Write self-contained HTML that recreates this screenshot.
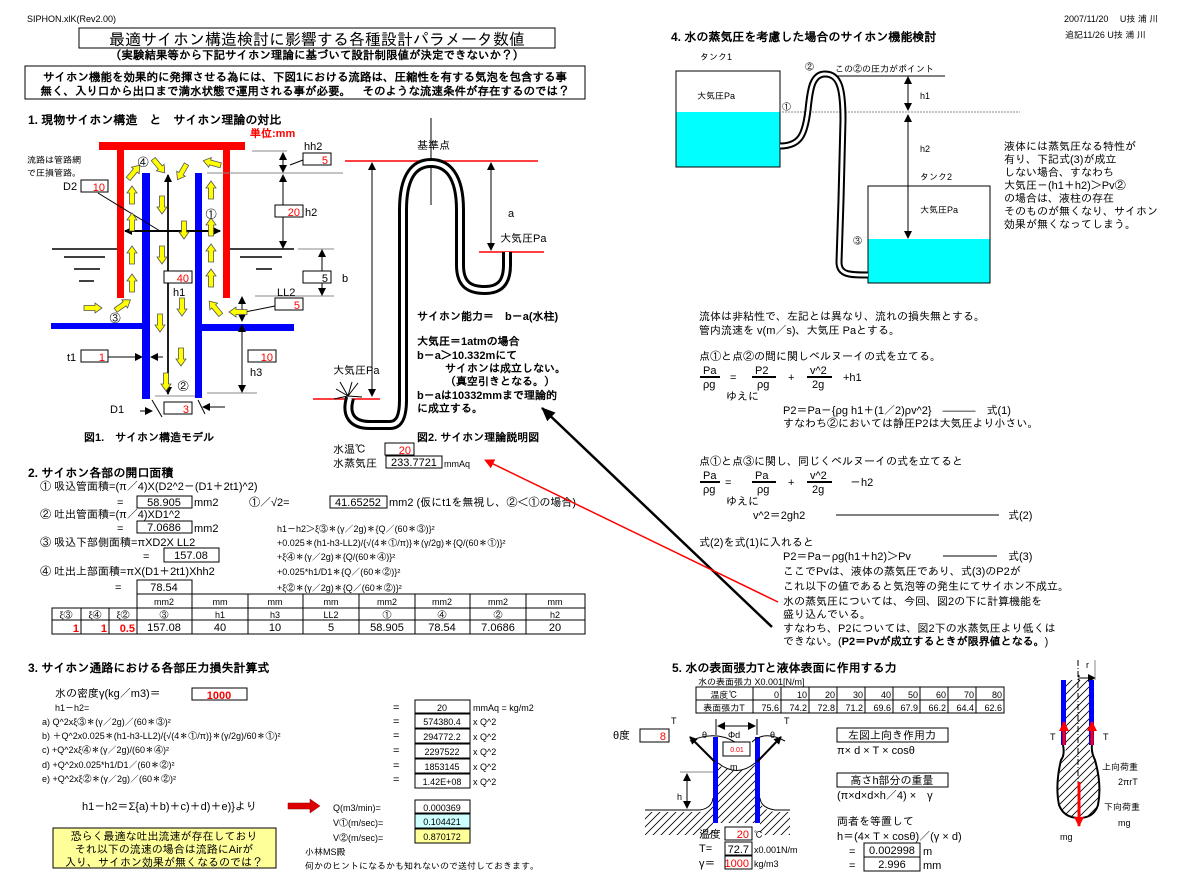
<!DOCTYPE html>
<html><head><meta charset="utf-8"><style>
html,body{margin:0;padding:0;background:#fff}
svg{display:block}
text{font-family:"Liberation Sans","IPAGothic","Noto Sans CJK JP",sans-serif;font-size:11px;fill:#000}
.b{font-weight:bold}
.r{fill:#f00}
.s{font-size:9px}
.m{text-anchor:middle}
.e{text-anchor:end}
.bx{fill:#fff;stroke:#000;stroke-width:1}
.ln{stroke:#000;stroke-width:1;fill:none}
.gl{stroke:#888;stroke-width:1;fill:none}
</style></head><body>
<svg width="1196" height="882" viewBox="0 0 1196 882" xmlns="http://www.w3.org/2000/svg">
<defs>
<marker id="ah" markerWidth="8" markerHeight="8" refX="7" refY="4" orient="auto" markerUnits="userSpaceOnUse"><path d="M0,0 L8,4 L0,8 z" fill="#000"/></marker>
<marker id="ahr" markerWidth="10" markerHeight="10" refX="9" refY="5" orient="auto" markerUnits="userSpaceOnUse"><path d="M0,0 L10,5 L0,10 z" fill="#f00"/></marker>
<marker id="ahb" markerWidth="14" markerHeight="12" refX="13" refY="6" orient="auto" markerUnits="userSpaceOnUse"><path d="M0,0 L14,6 L0,12 z" fill="#000"/></marker>
<g id="ya"><polygon points="-2.5,9 2.5,9 2.5,-2 5,-2 0,-9 -5,-2 -2.5,-2" fill="#ff0" stroke="#555" stroke-width="0.8"/></g>
<pattern id="hat" width="8" height="8" patternUnits="userSpaceOnUse"><path d="M-2,10 L10,-2 M-2,2 L2,-2 M6,10 L10,6" stroke="#000" stroke-width="0.8"/></pattern>
</defs>

<!-- header -->
<text x="27" y="22" class="s">SIPHON.xlK(Rev2.00)</text>
<rect x="79" y="28" width="476" height="20" class="bx" stroke-width="1.5"/>
<text x="317" y="45" class="m" style="font-size:16px">最適サイホン構造検討に影響する各種設計パラメータ数値</text>
<text x="317" y="59" class="m b" style="font-size:11.5px">（実験結果等から下記サイホン理論に基づいて設計制限値が決定できないか？）</text>
<rect x="25" y="66" width="560" height="33" class="bx"/>
<text x="305" y="81" class="m b" style="font-size:11.5px">サイホン機能を効果的に発揮させる為には、下図1における流路は、圧縮性を有する気泡を包含する事</text>
<text x="305" y="95" class="m b" style="font-size:11.5px">無く、入り口から出口まで満水状態で運用される事が必要。　そのような流速条件が存在するのでは？</text>
<text x="1064" y="22" class="s">2007/11/20　 U技 浦 川</text>
<text x="1065" y="38" class="s">追記11/26 U技 浦 川</text>

<!-- section 1 -->
<text x="28" y="124" class="b" style="font-size:12px">1. 現物サイホン構造　と　サイホン理論の対比</text>
<text x="250" y="137" class="r b">単位:mm</text>
<text x="27" y="163" class="s">流路は管路網</text>
<text x="27" y="176" class="s">で圧損管路。</text>
<rect x="99" y="142" width="146" height="8" fill="#f00"/>
<rect x="117" y="150" width="7" height="148" fill="#f00"/>
<rect x="223" y="150" width="7" height="148" fill="#f00"/>
<rect x="142" y="173" width="8" height="226" fill="#00f"/>
<rect x="195" y="173" width="7" height="225" fill="#00f"/>
<rect x="51" y="323" width="94" height="6" fill="#00f"/>
<rect x="202" y="324" width="92" height="7" fill="#00f"/>
<g stroke="#000" stroke-width="1.5">
<line x1="52" y1="249" x2="117" y2="249"/><line x1="230" y1="249" x2="294" y2="249"/>
<line x1="64" y1="257" x2="105" y2="257"/><line x1="74" y1="269" x2="100" y2="269"/><line x1="79" y1="281" x2="94" y2="281"/>
<line x1="240" y1="257" x2="282" y2="257"/><line x1="256" y1="269" x2="272" y2="269"/>
</g>
<g class="gl">
<line x1="252" y1="151" x2="287" y2="151"/><line x1="207" y1="173" x2="343" y2="173"/>
<line x1="298" y1="249" x2="334" y2="249"/><line x1="255" y1="296" x2="334" y2="296"/>
<line x1="207" y1="393" x2="257" y2="393"/><line x1="155" y1="396" x2="195" y2="396"/>
</g>
<g class="ln">
<line x1="283" y1="172" x2="283" y2="153" marker-end="url(#ah)"/><line x1="283" y1="153" x2="283" y2="172" marker-end="url(#ah)"/>
<line x1="283" y1="248" x2="283" y2="175" marker-end="url(#ah)"/><line x1="283" y1="175" x2="283" y2="248" marker-end="url(#ah)"/>
<line x1="322" y1="295" x2="322" y2="250" marker-end="url(#ah)"/><line x1="322" y1="250" x2="322" y2="295" marker-end="url(#ah)"/>
<line x1="242" y1="321" x2="242" y2="297" marker-end="url(#ah)"/><line x1="242" y1="297" x2="242" y2="321" marker-end="url(#ah)"/>
<line x1="242" y1="392" x2="242" y2="325" marker-end="url(#ah)"/><line x1="242" y1="325" x2="242" y2="392" marker-end="url(#ah)"/>
<line x1="168" y1="394" x2="168" y2="175" marker-end="url(#ah)" stroke-width="1.5"/><line x1="168" y1="175" x2="168" y2="394" marker-end="url(#ah)" stroke-width="1.5"/>
<line x1="220" y1="231" x2="125" y2="231" marker-end="url(#ah)" stroke-width="2"/><line x1="125" y1="231" x2="220" y2="231" marker-end="url(#ah)" stroke-width="2"/>
<line x1="98" y1="193" x2="160" y2="231"/>
<line x1="108" y1="357" x2="142" y2="357" marker-end="url(#ah)"/><line x1="163" y1="357" x2="151" y2="357" marker-end="url(#ah)"/>
<line x1="140" y1="411" x2="152" y2="411" marker-end="url(#ah)"/><line x1="225" y1="407" x2="203" y2="407" marker-end="url(#ah)"/>
<line x1="152" y1="400" x2="162" y2="417"/><line x1="198" y1="400" x2="205" y2="414"/>
<line x1="290" y1="165" x2="303" y2="160"/><line x1="240" y1="313" x2="275" y2="306"/>
</g>
<use href="#ya" x="132" y="195"/><use href="#ya" x="132" y="222"/><use href="#ya" x="132" y="255"/><use href="#ya" x="132" y="283"/>
<use href="#ya" x="211" y="190"/><use href="#ya" x="211" y="227"/><use href="#ya" x="211" y="253"/><use href="#ya" x="211" y="278"/>
<use href="#ya" transform="translate(162,205) rotate(180)"/><use href="#ya" transform="translate(162,255) rotate(180)"/>
<use href="#ya" transform="translate(184,230) rotate(180)"/><use href="#ya" transform="translate(182,307) rotate(180)"/>
<use href="#ya" transform="translate(160,323) rotate(180)"/><use href="#ya" transform="translate(181,357) rotate(180)"/>
<use href="#ya" transform="translate(166,382) rotate(180)"/>
<use href="#ya" transform="translate(134,172) rotate(40)"/><use href="#ya" transform="translate(159,166) rotate(140)"/>
<use href="#ya" transform="translate(182,172) rotate(-150)"/><use href="#ya" transform="translate(212,163) rotate(-75)"/>
<use href="#ya" transform="translate(93,308) rotate(90)"/><use href="#ya" transform="translate(123,305) rotate(55)"/>
<use href="#ya" transform="translate(215,308) rotate(-40)"/><use href="#ya" transform="translate(238,312) rotate(-90)"/>
<text x="143" y="166" class="m">④</text><text x="211" y="218" class="m">①</text><text x="115" y="322" class="m">③</text><text x="183" y="390" class="m">②</text>
<text x="304" y="150">hh2</text><rect x="303" y="153" width="28" height="12" class="bx"/><text x="328" y="164" class="e r">5</text>
<rect x="275" y="205" width="28" height="12" class="bx"/><text x="300" y="216" class="e r">20</text><text x="305" y="216">h2</text>
<rect x="303" y="271" width="28" height="12" class="bx"/><text x="328" y="282" class="e">5</text><text x="342" y="282">b</text>
<text x="277" y="296">LL2</text><rect x="275" y="298" width="28" height="12" class="bx"/><text x="300" y="309" class="e r">5</text>
<rect x="248" y="350" width="28" height="12" class="bx"/><text x="273" y="361" class="e r">10</text><text x="250" y="376">h3</text>
<rect x="164" y="271" width="28" height="12" class="bx"/><text x="189" y="282" class="e r">40</text><text x="173" y="296">h1</text>
<text x="63" y="190">D2</text><rect x="81" y="180" width="27" height="12" class="bx"/><text x="105" y="191" class="e r">10</text>
<text x="67" y="361">t1</text><rect x="81" y="350" width="27" height="12" class="bx"/><text x="105" y="361" class="e r">1</text>
<text x="110" y="413">D1</text><rect x="164" y="402" width="28" height="12" class="bx"/><text x="189" y="413" class="e r">3</text>
<text x="84" y="441" class="b">図1.　サイホン構造モデル</text>

<!-- fig2 -->
<line x1="431" y1="118" x2="431" y2="205" class="ln"/>
<line x1="345" y1="161" x2="538" y2="161" stroke="#f00" stroke-width="1.5"/>
<line x1="479" y1="252" x2="544" y2="252" stroke="#f00" stroke-width="1.5"/>
<line x1="313" y1="399" x2="380" y2="399" stroke="#f00" stroke-width="1.5"/>
<path d="M350 398 C345 415 352 425 370 425 L390 425 C400 425 403 415 403 400 L403 210 C403 175 415 163 431 163 C447 163 460 175 460 210 L460 265 C460 285 470 290 485 290 C500 290 507 282 507 265 L507 252" fill="none" stroke="#000" stroke-width="10"/>
<path d="M350 398 C345 415 352 425 370 425 L390 425 C400 425 403 415 403 400 L403 210 C403 175 415 163 431 163 C447 163 460 175 460 210 L460 265 C460 285 470 290 485 290 C500 290 507 282 507 265 L507 252" fill="none" stroke="#fff" stroke-width="4"/>
<g class="ln">
<line x1="372" y1="396" x2="372" y2="163" marker-end="url(#ah)"/><line x1="372" y1="163" x2="372" y2="396" marker-end="url(#ah)"/>
<line x1="491" y1="250" x2="491" y2="163" marker-end="url(#ah)"/><line x1="491" y1="163" x2="491" y2="250" marker-end="url(#ah)"/>
<path d="M348 396 L336 389 M348 396 L340 382 M348 396 L352 382 M348 396 L358 383 M348 396 L334 399 M348 396 L362 397"/>
</g>
<text x="417" y="149">基準点</text>
<text x="508" y="217">a</text>
<text x="500" y="242">大気圧Pa</text>
<text x="333" y="374">大気圧Pa</text>
<text x="417" y="320" class="b">サイホン能力＝　b－a(水柱)</text>
<text x="417" y="345" class="b">大気圧＝1atmの場合</text>
<text x="417" y="359" class="b">b－a＞10.332mにて</text>
<text x="445" y="372" class="b">サイホンは成立しない。</text>
<text x="445" y="385" class="b">（真空引きとなる。）</text>
<text x="417" y="399" class="b">b－aは10332mmまで理論的</text>
<text x="417" y="412" class="b">に成立する。</text>
<text x="417" y="441" class="b">図2. サイホン理論説明図</text>
<text x="333" y="453">水温℃</text><rect x="385" y="443" width="29" height="12" class="bx"/><text x="411" y="454" class="e r">20</text>
<text x="333" y="467">水蒸気圧</text><rect x="386" y="456" width="56" height="12" class="bx"/><text x="414" y="466" class="m">233.7721</text><text x="444" y="467" class="s">mmAq</text>

<!-- section 2 -->
<text x="28" y="477" class="b" style="font-size:12px">2. サイホン各部の開口面積</text>
<text x="40" y="490">① 吸込管面積=(π／4)X(D2^2－(D1＋2t1)^2)</text>
<text x="117" y="506">=</text><rect x="137" y="496" width="55" height="12" class="bx"/><text x="164" y="506" class="m">58.905</text><text x="194" y="506">mm2</text>
<text x="249" y="506">①／√2=</text><rect x="330" y="496" width="57" height="12" class="bx"/><text x="358" y="506" class="m">41.65252</text><text x="389" y="506">mm2 (仮にt1を無視し、②＜①の場合)</text>
<text x="40" y="518">② 吐出管面積=(π／4)XD1^2</text>
<text x="117" y="532">=</text><rect x="137" y="521" width="55" height="12" class="bx"/><text x="164" y="531" class="m">7.0686</text><text x="194" y="532">mm2</text>
<text x="277" y="532" class="s">h1－h2＞ξ③＊(γ／2g)＊{Q／(60＊③)}²</text>
<text x="40" y="546">③ 吸込下部側面積=πXD2X LL2</text>
<text x="277" y="546" class="s">+0.025＊(h1-h3-LL2)/{√(4＊①/π)}＊(γ/2g)＊{Q/(60＊①)}²</text>
<text x="143" y="560">=</text><rect x="164" y="548" width="55" height="14" class="bx"/><text x="191" y="559" class="m">157.08</text>
<text x="277" y="560" class="s">+ξ④＊(γ／2g)＊{Q/(60＊④)}²</text>
<text x="40" y="575">④ 吐出上部面積=πX(D1＋2t1)Xhh2</text>
<text x="277" y="575" class="s">+0.025*h1/D1＊{Q／(60＊②)}²</text>
<text x="115" y="591">=</text><rect x="137" y="580" width="55" height="14" class="bx"/><text x="164" y="591" class="m">78.54</text>
<text x="277" y="591" class="s">+ξ②＊(γ／2g)＊{Q／(60＊②)}²</text>
<g class="ln">
<rect x="137" y="594" width="448" height="40"/>
<rect x="52" y="608" width="85" height="26"/>
<line x1="52" y1="620" x2="585" y2="620"/><line x1="137" y1="608" x2="585" y2="608"/>
<line x1="81" y1="608" x2="81" y2="634"/><line x1="109" y1="608" x2="109" y2="634"/>
<line x1="192" y1="594" x2="192" y2="634"/><line x1="248" y1="594" x2="248" y2="634"/><line x1="303" y1="594" x2="303" y2="634"/>
<line x1="359" y1="594" x2="359" y2="634"/><line x1="415" y1="594" x2="415" y2="634"/><line x1="470" y1="594" x2="470" y2="634"/><line x1="526" y1="594" x2="526" y2="634"/>
</g>
<text x="164" y="605" class="m s">mm2</text><text x="220" y="605" class="m s">mm</text><text x="275" y="605" class="m s">mm</text><text x="331" y="605" class="m s">mm</text><text x="387" y="605" class="m s">mm2</text><text x="442" y="605" class="m s">mm2</text><text x="498" y="605" class="m s">mm2</text><text x="555" y="605" class="m s">mm</text>
<text x="66" y="618" class="m s">ξ③</text><text x="95" y="618" class="m s">ξ④</text><text x="123" y="618" class="m s">ξ②</text>
<text x="164" y="618" class="m s">③</text><text x="220" y="618" class="m s">h1</text><text x="275" y="618" class="m s">h3</text><text x="331" y="618" class="m s">LL2</text><text x="387" y="618" class="m s">①</text><text x="442" y="618" class="m s">④</text><text x="498" y="618" class="m s">②</text><text x="555" y="618" class="m s">h2</text>
<text x="79" y="632" class="e r b">1</text><text x="107" y="632" class="e r b">1</text><text x="135" y="632" class="e r b">0.5</text>
<text x="164" y="631" class="m">157.08</text><text x="220" y="631" class="m">40</text><text x="275" y="631" class="m">10</text><text x="331" y="631" class="m">5</text><text x="387" y="631" class="m">58.905</text><text x="442" y="631" class="m">78.54</text><text x="498" y="631" class="m">7.0686</text><text x="555" y="631" class="m">20</text>

<line x1="772" y1="627" x2="542" y2="408" stroke="#000" stroke-width="2.5" marker-end="url(#ahb)"/>
<line x1="778" y1="602" x2="485" y2="460" stroke="#f00" stroke-width="1.5" marker-end="url(#ahr)"/>

<!-- section 3 -->
<text x="28" y="672" class="b" style="font-size:12px">3. サイホン通路における各部圧力損失計算式</text>
<text x="55" y="697">水の密度γ(kg／m3)＝</text><rect x="192" y="688" width="55" height="12" class="bx"/><text x="219" y="699" class="m r b">1000</text>
<text x="55" y="711" class="s">h1－h2=</text>
<text x="42" y="725" class="s">a) Q^2xξ③＊(γ／2g)／(60＊③)²</text>
<text x="42" y="739" class="s">b) ＋Q^2x0.025＊(h1-h3-LL2)/{√(4＊①/π)}＊(γ/2g)/60＊①)²</text>
<text x="42" y="753" class="s">c) +Q^2xξ④＊(γ／2g)/(60＊④)²</text>
<text x="42" y="768" class="s">d) +Q^2x0.025*h1/D1／(60＊②)²</text>
<text x="42" y="782" class="s">e) +Q^2xξ②＊(γ／2g)／(60＊②)²</text>
<text x="393" y="711">=</text><text x="393" y="725">=</text><text x="393" y="739">=</text><text x="393" y="754">=</text><text x="393" y="769">=</text><text x="393" y="783">=</text>
<rect x="415" y="700" width="55" height="13" class="bx"/><text x="442" y="711" class="m s">20</text><text x="473" y="711" class="s">mmAq = kg/m2</text>
<rect x="415" y="714" width="55" height="14" class="bx"/><text x="442" y="725" class="m s">574380.4</text><text x="473" y="725" class="s">x Q^2</text>
<rect x="415" y="729" width="55" height="14" class="bx"/><text x="442" y="740" class="m s">294772.2</text><text x="473" y="740" class="s">x Q^2</text>
<rect x="415" y="744" width="55" height="14" class="bx"/><text x="442" y="755" class="m s">2297522</text><text x="473" y="755" class="s">x Q^2</text>
<rect x="415" y="759" width="55" height="14" class="bx"/><text x="442" y="770" class="m s">1853145</text><text x="473" y="770" class="s">x Q^2</text>
<rect x="415" y="774" width="55" height="14" class="bx"/><text x="442" y="785" class="m s">1.42E+08</text><text x="473" y="785" class="s">x Q^2</text>
<text x="82" y="810">h1－h2＝Σ{a)＋b)＋c)＋d)＋e)}より</text>
<polygon points="288,803 310,803 310,799 320,806 310,813 310,809 288,809" fill="#d00" stroke="#800" stroke-width="0.5"/>
<text x="333" y="811" class="s">Q(m3/min)=</text><rect x="415" y="800" width="55" height="13" class="bx"/><text x="442" y="811" class="m s">0.000369</text>
<text x="333" y="826" class="s">V①(m/sec)=</text><rect x="415" y="814" width="55" height="14" fill="#cff" stroke="#000"/><text x="442" y="825" class="m s">0.104421</text>
<text x="333" y="841" class="s">V②(m/sec)=</text><rect x="415" y="829" width="55" height="14" fill="#ff9" stroke="#000"/><text x="442" y="840" class="m s">0.870172</text>
<text x="305" y="855" class="s">小林MS殿</text>
<text x="305" y="869" class="s">何かのヒントになるかも知れないので送付しておきます。</text>
<rect x="53" y="828" width="223" height="40" fill="#ff9" stroke="#000"/>
<text x="164" y="840" class="m">恐らく最適な吐出流速が存在しており</text>
<text x="164" y="853" class="m">それ以下の流速の場合は流路にAirが</text>
<text x="164" y="866" class="m">入り、サイホン効果が無くなるのでは？</text>

<!-- section 4 -->
<text x="671" y="41" class="b" style="font-size:12px">4. 水の蒸気圧を考慮した場合のサイホン機能検討</text>
<text x="700" y="60" class="s">タンク1</text>
<rect x="676" y="112" width="104" height="55" fill="#0ff"/>
<rect x="676" y="71" width="104" height="96" fill="none" stroke="#000"/>
<text x="697" y="99" class="s">大気圧Pa</text>
<text x="782" y="110" class="s">①</text><text x="805" y="70" class="s">②</text>
<text x="835" y="72" class="s">この②の圧力がポイント</text>
<line x1="820" y1="76" x2="945" y2="76" class="ln"/>
<line x1="782" y1="112" x2="1020" y2="112" stroke="#888" stroke-dasharray="2,1"/>
<g class="ln">
<line x1="908" y1="110" x2="908" y2="77" marker-end="url(#ah)"/><line x1="908" y1="77" x2="908" y2="110" marker-end="url(#ah)"/>
<line x1="908" y1="238" x2="908" y2="115" marker-end="url(#ah)"/><line x1="908" y1="115" x2="908" y2="238" marker-end="url(#ah)"/>
</g>
<text x="920" y="99" class="s">h1</text><text x="920" y="152" class="s">h2</text><text x="920" y="180" class="s">タンク2</text>
<rect x="868" y="239" width="122" height="44" fill="#0ff"/>
<rect x="868" y="186" width="122" height="97" fill="none" stroke="#000"/>
<text x="920" y="213" class="s">大気圧Pa</text>
<text x="853" y="244" class="s">③</text>
<path d="M780 146 C800 146 805 135 808 110 C810 90 812 74 825 74 C840 74 843 90 843 120 L841 200 L839 262 C839 275 850 275 868 275" fill="none" stroke="#000" stroke-width="7"/>
<path d="M780 146 C800 146 805 135 808 110 C810 90 812 74 825 74 C840 74 843 90 843 120 L841 200 L839 262 C839 275 850 275 868 275" fill="none" stroke="#fff" stroke-width="3"/>
<g class="s">
<text x="1004" y="150">液体には蒸気圧なる特性が</text>
<text x="1004" y="163">有り、下記式(3)が成立</text>
<text x="1004" y="176">しない場合、すなわち</text>
<text x="1004" y="189">大気圧－(h1＋h2)＞Pv②</text>
<text x="1004" y="202">の場合は、液柱の存在</text>
<text x="1004" y="215">そのものが無くなり、サイホン</text>
<text x="1004" y="228">効果が無くなってしまう。</text>
</g>
<g class="s">
<text x="699" y="320">流体は非粘性で、左記とは異なり、流れの損失無とする。</text>
<text x="699" y="334">管内流速を v(m／s)、大気圧 Paとする。</text>
<text x="699" y="360">点①と点②の間に関しベルヌーイの式を立てる。</text>
<text x="703" y="374">Pa</text><text x="703" y="388">ρg</text><line x1="700" y1="377" x2="720" y2="377" stroke="#000" stroke-width="2"/>
<text x="730" y="381">=</text>
<text x="755" y="374">P2</text><text x="757" y="388">ρg</text><line x1="752" y1="377" x2="776" y2="377" stroke="#000" stroke-width="2"/>
<text x="788" y="381">+</text>
<text x="810" y="374">v^2</text><text x="812" y="388">2g</text><line x1="807" y1="377" x2="832" y2="377" stroke="#000" stroke-width="2"/>
<text x="843" y="381">+h1</text>
<text x="726" y="400">ゆえに</text>
<text x="783" y="414">P2＝Pa－{ρg h1＋(1／2)ρv^2}　―――　式(1)</text>
<text x="783" y="427">すなわち②においては静圧P2は大気圧より小さい。</text>
<text x="699" y="465">点①と点③に関し、同じくベルヌーイの式を立てると</text>
<text x="703" y="479">Pa</text><text x="703" y="493">ρg</text><line x1="700" y1="482" x2="720" y2="482" stroke="#000" stroke-width="2"/>
<text x="725" y="486">=</text>
<text x="755" y="479">Pa</text><text x="757" y="493">ρg</text><line x1="752" y1="482" x2="776" y2="482" stroke="#000" stroke-width="2"/>
<text x="788" y="486">+</text>
<text x="810" y="479">v^2</text><text x="812" y="493">2g</text><line x1="807" y1="482" x2="832" y2="482" stroke="#000" stroke-width="2"/>
<text x="850" y="486">－h2</text>
<text x="726" y="505">ゆえに</text>
<text x="753" y="519">v^2＝2gh2</text>
<line x1="836" y1="515" x2="999" y2="515" class="ln"/><text x="1008" y="519">式(2)</text>
<text x="699" y="546">式(2)を式(1)に入れると</text>
<text x="783" y="560">P2＝Pa－ρg(h1＋h2)＞Pv</text>
<line x1="943" y1="556" x2="997" y2="556" class="ln"/><text x="1008" y="560">式(3)</text>
<text x="783" y="575">ここでPvは、液体の蒸気圧であり、式(3)のP2が</text>
<text x="783" y="590">これ以下の値であると気泡等の発生にてサイホン不成立。</text>
<text x="783" y="605">水の蒸気圧については、今回、図2の下に計算機能を</text>
<text x="783" y="618">盛り込んでいる。</text>
<text x="783" y="632">すなわち、P2については、図2下の水蒸気圧より低くは</text>
<text x="783" y="645">できない。(<tspan class="b">P2＝Pvが成立するときが限界値となる。</tspan>)</text>
</g>

<!-- section 5 -->
<text x="672" y="672" class="b" style="font-size:12px">5. 水の表面張力Tと液体表面に作用する力</text>
<text x="698" y="685" class="s">水の表面張力 X0.001[N/m]</text>
<g class="ln">
<rect x="696" y="687" width="308" height="26"/><line x1="696" y1="700" x2="1004" y2="700"/>
<line x1="753" y1="687" x2="753" y2="713"/><line x1="781" y1="687" x2="781" y2="713"/><line x1="809" y1="687" x2="809" y2="713"/><line x1="837" y1="687" x2="837" y2="713"/><line x1="865" y1="687" x2="865" y2="713"/><line x1="893" y1="687" x2="893" y2="713"/><line x1="920" y1="687" x2="920" y2="713"/><line x1="948" y1="687" x2="948" y2="713"/><line x1="976" y1="687" x2="976" y2="713"/>
</g>
<text x="724" y="698" class="m s">温度℃</text><text x="724" y="711" class="m s">表面張力T</text>
<text x="779" y="698" class="e s">0</text><text x="807" y="698" class="e s">10</text><text x="835" y="698" class="e s">20</text><text x="863" y="698" class="e s">30</text><text x="891" y="698" class="e s">40</text><text x="918" y="698" class="e s">50</text><text x="946" y="698" class="e s">60</text><text x="974" y="698" class="e s">70</text><text x="1002" y="698" class="e s">80</text>
<text x="779" y="711" class="e s">75.6</text><text x="807" y="711" class="e s">74.2</text><text x="835" y="711" class="e s">72.8</text><text x="863" y="711" class="e s">71.2</text><text x="891" y="711" class="e s">69.6</text><text x="918" y="711" class="e s">67.9</text><text x="946" y="711" class="e s">66.2</text><text x="974" y="711" class="e s">64.4</text><text x="1002" y="711" class="e s">62.6</text>
<text x="613" y="739">θ度</text><rect x="640" y="729" width="29" height="13" class="bx"/><text x="666" y="740" class="e r">8</text>
<text x="671" y="724" class="s">T</text><text x="784" y="724" class="s">T</text>
<path d="M718 765 Q737 775 755 765 L755 823 L718 823 Z" fill="url(#hat)"/>
<path d="M645 812 L700 812 Q712 810 713 800 L713 835 L645 835 Z" fill="url(#hat)"/>
<path d="M760 800 Q761 810 775 812 L790 812 L790 835 L760 835 Z" fill="url(#hat)"/>
<rect x="713" y="737" width="5" height="86" fill="#00f"/>
<rect x="755" y="737" width="5" height="86" fill="#00f"/>
<path d="M718 763 Q737 778 755 763" class="ln"/>
<path d="M690 741 Q715 730 735 742 M752 742 Q765 730 785 741" class="ln" stroke="#666"/>
<line x1="680" y1="772" x2="713" y2="772" class="gl"/>
<path d="M645 810 L700 810 Q712 808 713 798 M760 798 Q761 808 775 810 L790 810" class="ln"/>
<g class="ln">
<line x1="687" y1="808" x2="687" y2="774" marker-end="url(#ah)"/><line x1="687" y1="774" x2="687" y2="808" marker-end="url(#ah)"/>
<line x1="716" y1="719" x2="716" y2="735"/><line x1="757" y1="719" x2="757" y2="735"/>
<line x1="755" y1="726" x2="718" y2="726" marker-end="url(#ah)"/><line x1="718" y1="726" x2="755" y2="726" marker-end="url(#ah)"/>
<line x1="715" y1="762" x2="690" y2="737" stroke-width="2" marker-end="url(#ah)"/><line x1="757" y1="762" x2="781" y2="737" stroke-width="2" marker-end="url(#ah)"/>
</g>
<text x="702" y="738" class="s">θ</text><text x="770" y="738" class="s">θ</text>
<text x="728" y="738" class="s">Φd</text>
<rect x="723" y="742" width="27" height="14" class="bx"/><text x="737" y="752" class="m r" style="font-size:7px">0.01</text>
<text x="730" y="770" class="s">m</text><text x="677" y="800" class="s">h</text>
<text x="699" y="838">温度</text><rect x="725" y="827" width="27" height="13" class="bx"/><text x="749" y="838" class="e r">20</text><text x="754" y="838" class="s">℃</text>
<text x="699" y="852">T=</text><rect x="725" y="842" width="27" height="13" class="bx"/><text x="749" y="853" class="e">72.7</text><text x="754" y="853" class="s">x0.001N/m</text>
<text x="699" y="867">γ＝</text><rect x="725" y="856" width="27" height="13" class="bx"/><text x="749" y="867" class="e r">1000</text><text x="754" y="867" class="s">kg/m3</text>
<rect x="837" y="728" width="111" height="14" class="bx"/><text x="892" y="739" class="m">左図上向き作用力</text>
<text x="837" y="754">π× d × T × cosθ</text>
<rect x="837" y="773" width="111" height="14" class="bx"/><text x="892" y="784" class="m">高さh部分の重量</text>
<text x="837" y="799">(π×d×d×h／4) ×　γ</text>
<text x="837" y="825">両者を等置して</text>
<text x="837" y="840">h＝(4× T × cosθ)／(γ × d)</text>
<text x="849" y="855">=</text><rect x="864" y="843" width="56" height="14" class="bx"/><text x="892" y="854" class="m">0.002998</text><text x="923" y="855">m</text>
<text x="849" y="869">=</text><rect x="864" y="857" width="56" height="14" class="bx"/><text x="892" y="868" class="m">2.996</text><text x="923" y="869">mm</text>
<!-- far right fig -->
<text x="1086" y="668" class="s">r</text>
<line x1="1079" y1="675" x2="1079" y2="682" class="ln"/><line x1="1080" y1="678" x2="1095" y2="678" class="ln" marker-end="url(#ah)"/>
<line x1="1095" y1="660" x2="1095" y2="680" class="gl"/>
<path d="M1066 680 L1089 680 L1089 745 Q1090 755 1095 760 Q1102 785 1098 805 Q1093 818 1078 818 Q1064 818 1060 805 Q1056 785 1062 760 Q1066 755 1066 745 Z" fill="url(#hat)"/>
<path d="M1063 745 Q1065 755 1061 760 Q1055 785 1059 805 Q1064 818 1079 818 Q1094 818 1098 805 Q1102 785 1095 760 Q1091 752 1092 745" fill="none" stroke="#000" stroke-width="2"/>
<line x1="1078" y1="660" x2="1078" y2="800" stroke="#000" stroke-dasharray="6,2,1,2"/>
<rect x="1061" y="680" width="5" height="65" fill="#00f"/>
<rect x="1089" y="680" width="5" height="65" fill="#00f"/>
<line x1="1064" y1="745" x2="1064" y2="722" stroke="#f00" stroke-width="3" marker-end="url(#ahr)"/>
<line x1="1092" y1="745" x2="1092" y2="722" stroke="#f00" stroke-width="3" marker-end="url(#ahr)"/>
<line x1="1079" y1="782" x2="1079" y2="826" stroke="#f00" stroke-width="3" marker-end="url(#ahr)"/>
<text x="1050" y="740" class="s">T</text><text x="1103" y="740" class="s">T</text>
<text x="1102" y="770" class="s">上向荷重</text><text x="1118" y="785" class="s">2πrT</text>
<text x="1104" y="810" class="s">下向荷重</text><text x="1118" y="826" class="s">mg</text>
<text x="1060" y="840" class="s">mg</text>
</svg>
</body></html>
